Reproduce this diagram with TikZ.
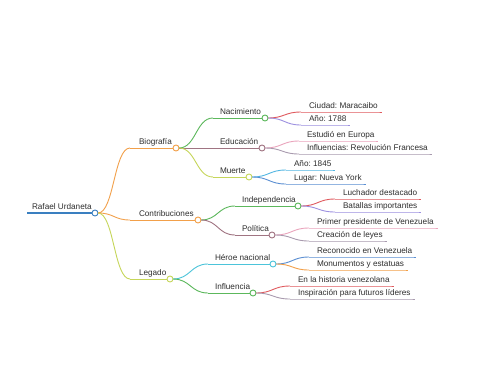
\documentclass[tikz,border=0pt]{standalone}
\usepackage{fontspec}
\setmainfont{Liberation Sans}
\usetikzlibrary{calc}
\frenchspacing
\definecolor{croot}{HTML}{3A7FC0}
\definecolor{corange}{HTML}{F2A04A}
\definecolor{cyg}{HTML}{C6D65A}
\definecolor{cgreen}{HTML}{5CB85C}
\definecolor{cmauve}{HTML}{A07482}
\definecolor{ccyan}{HTML}{4CC4DA}
\definecolor{cred}{HTML}{E05A5E}
\definecolor{cpurple}{HTML}{9C90E0}
\definecolor{cpink}{HTML}{EAA4BC}
\definecolor{cgp}{HTML}{A89AAE}
\definecolor{clblue}{HTML}{52B6E2}
\definecolor{cblue}{HTML}{5A8ED2}
\definecolor{ctext}{HTML}{2E2E2E}
\tikzset{
  lbl/.style={inner sep=0pt,outer sep=0pt,text=ctext,font=\fontsize{8.2}{10}\selectfont,anchor=base west},
  conn/.style={line width=0.9pt},
  dot/.style={circle,fill=white,line width=0.9pt,minimum size=6pt,inner sep=0pt,outer sep=0pt}
}
% inner node: name, parent, startx, y, textx, text, color, circlex
\newcommand{\mminner}[8]{%
  \coordinate (#1s) at (#3,#4);
  \node[lbl] (#1t) at (#5,#4-4) {#6};
  \path ($(#2.east)!0.5!(#1s)$) coordinate (#1m);
  \draw[#7,conn] (#2.east) .. controls (#1m |- #2.east) and (#1m |- #1s) .. (#1s);
  \coordinate (#1e) at (#8-3,#4);
  \draw[#7,conn] (#1s) -- (#1e);
  \node[dot,draw=#7] (#1) at (#8,#4) {};
}
% leaf: name, parent, startx, y, textx, text, color
\newcommand{\mmleaf}[7]{%
  \coordinate (#1s) at (#3,#4);
  \node[lbl] (#1t) at (#5,#4-3.5) {#6};
  \path ($(#2.east)!0.5!(#1s)$) coordinate (#1m);
  \draw[#7,conn] (#2.east) .. controls (#1m |- #2.east) and (#1m |- #1s) .. (#1s);
  \draw[#7,conn] (#1s) -- (#1s -| #1t.east) -- ++(4,0);
}
\begin{document}
\begin{tikzpicture}[x=1pt,y=-1pt]
\useasboundingbox[fill=white] (0,0) rectangle (480,384);
% root
\coordinate (roots) at (27,213);
\node[lbl] (roott) at (32,209) {Rafael Urdaneta};
\draw[croot,line width=1.4pt] (roots) -- (92,213);
\node[dot,draw=croot] (root) at (95,213) {};
% level 1
\mminner{bio}{root}{130}{148}{139}{Biografía}{corange}{176}
\mminner{con}{root}{130}{220}{139}{Contribuciones}{corange}{198}
\mminner{leg}{root}{130}{279}{139}{Legado}{cyg}{170}
% level 2
\mminner{nac}{bio}{213}{118}{220}{Nacimiento}{cgreen}{265}
\mminner{edu}{bio}{213}{148}{220}{Educación}{cmauve}{262}
\mminner{mue}{bio}{213}{177}{220}{Muerte}{cyg}{249}
\mminner{ind}{con}{235}{206}{242}{Independencia}{cgreen}{298}
\mminner{pol}{con}{235}{235}{242}{Política}{cmauve}{272}
\mminner{her}{leg}{208}{264}{215}{Héroe nacional}{ccyan}{273}
\mminner{inf}{leg}{208}{293}{215}{Influencia}{cgreen}{253}
% leaves
\mmleaf{l1}{nac}{301}{112}{309}{Ciudad: Maracaibo}{cred}
\mmleaf{l2}{nac}{301}{125}{309}{Año: 1788}{cpurple}
\mmleaf{l3}{edu}{299}{141}{307}{Estudió en Europa}{cpink}
\mmleaf{l4}{edu}{299}{154}{307}{Influencias: Revolución Francesa}{cgp}
\mmleaf{l5}{mue}{286}{170}{294}{Año: 1845}{clblue}
\mmleaf{l6}{mue}{286}{184}{294}{Lugar: Nueva York}{cblue}
\mmleaf{l7}{ind}{335}{199}{343}{Luchador destacado}{cred}
\mmleaf{l8}{ind}{335}{212}{343}{Batallas importantes}{cpurple}
\mmleaf{l9}{pol}{309}{228}{317}{Primer presidente de Venezuela}{cpink}
\mmleaf{l10}{pol}{309}{241}{317}{Creación de leyes}{cgp}
\mmleaf{l11}{her}{309}{257}{317}{Reconocido en Venezuela}{cblue}
\mmleaf{l12}{her}{309}{270}{317}{Monumentos y estatuas}{corange}
\mmleaf{l13}{inf}{290}{286}{298}{En la historia venezolana}{cred}
\mmleaf{l14}{inf}{290}{299}{298}{Inspiración para futuros líderes}{cgp}
\end{tikzpicture}
\end{document}
